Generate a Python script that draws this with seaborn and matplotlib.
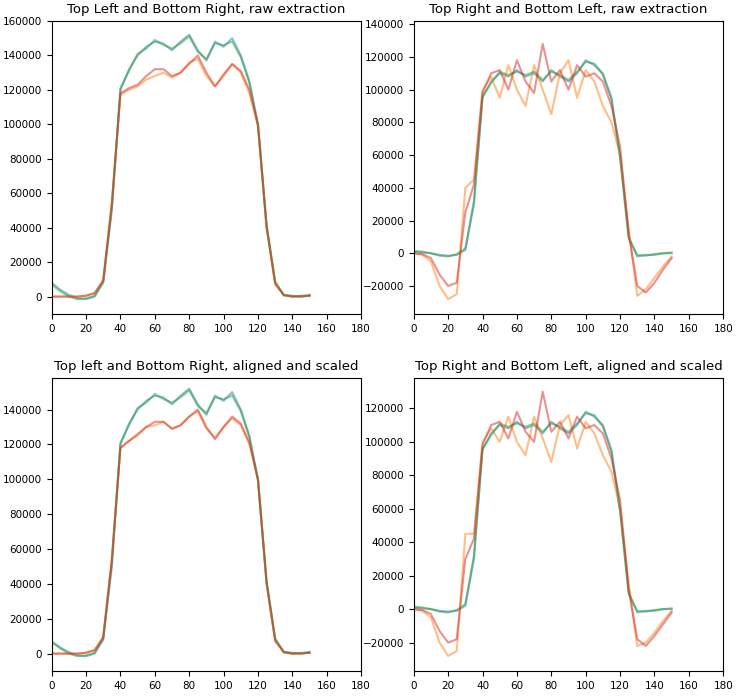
import matplotlib
matplotlib.use("Agg")
import matplotlib.pyplot as plt
import seaborn as sns
import numpy as np

x = [0,5,10,15,20,25,30,35,40,45,50,55,60,65,70,75,80,85,90,95,100,105,110,115,120,125,130,135,140,145,150]

# Top-left / bottom-right, raw
tl_blue  = [8000,4000,1000,-1000,-1500,0,8000,50000,120000,132000,140000,145000,148000,147000,143000,148000,152000,143000,137000,148000,145000,150000,140000,125000,100000,40000,8000,1000,500,0,1000]
tl_green = [7000,3000,0,-1500,-1000,500,9000,52000,121000,131000,141000,144000,149000,146000,144000,147000,151000,142000,138000,147000,146000,148000,139000,124000,99000,42000,9000,500,0,500,500]
tl_orange= [0,0,0,0,500,2000,10000,55000,117000,120000,122000,126000,128000,130000,127000,130000,136000,138000,128000,122000,128000,135000,130000,118000,99000,40000,8000,1000,0,0,500]
tl_red   = [0,0,0,0,500,2000,9000,54000,118000,121000,123000,128000,132000,132000,128000,130000,135000,140000,130000,122000,129000,135000,131000,120000,100000,41000,7000,1000,0,0,500]

# Top-right / bottom-left, raw
tr_blue  = [1000,500,0,-1000,-1500,-1000,2000,30000,95000,105000,110000,108000,112000,108000,110000,105000,112000,108000,105000,110000,118000,115000,110000,95000,60000,10000,-2000,-1000,-1000,0,0]
tr_green = [1500,1000,0,-1500,-2000,-500,3000,32000,96000,104000,111000,109000,111000,109000,111000,106000,111000,109000,106000,111000,117000,116000,109000,94000,58000,9000,-1000,-1500,-500,0,500]
tr_orange= [0,-1000,-5000,-20000,-28000,-25000,40000,45000,100000,108000,95000,115000,100000,90000,115000,100000,85000,110000,118000,95000,112000,105000,90000,80000,60000,15000,-26000,-22000,-15000,-8000,-2000]
tr_red   = [0,-500,-3000,-13000,-20000,-18000,25000,42000,98000,110000,112000,100000,118000,105000,98000,128000,105000,112000,100000,115000,108000,110000,105000,90000,65000,12000,-20000,-24000,-18000,-10000,-3000]

# Bottom panels (aligned and scaled)
bl_blue  = [7000,3500,800,-1000,-1500,0,8000,50000,120000,132000,140000,145000,148000,147000,143000,148000,152000,143000,137000,148000,145000,150000,140000,125000,100000,40000,8000,1000,500,0,1000]
bl_green = [6500,3000,0,-1500,-1000,500,9000,52000,121000,131000,141000,144000,149000,146000,144000,147000,151000,142000,138000,147000,146000,148000,139000,124000,99000,42000,9000,500,0,500,500]
bl_orange= [0,0,0,0,500,2000,10000,55000,118000,122000,125000,130000,131000,133000,129000,131000,136000,139000,129000,124000,130000,135000,131000,120000,100000,40000,8000,1000,0,0,500]
bl_red   = [0,0,0,0,500,2000,9000,54000,118000,122000,126000,130000,133000,133000,129000,131000,136000,140000,130000,123000,130000,136000,132000,121000,100000,41000,7000,1000,0,0,500]

br_blue  = tr_blue
br_green = tr_green
br_orange= [0,-1000,-5000,-20000,-28000,-25000,45000,45000,100000,108000,100000,115000,100000,92000,115000,102000,88000,110000,116000,96000,112000,105000,92000,82000,60000,15000,-22000,-20000,-14000,-7000,-1000]
br_red   = [0,-500,-3000,-13000,-20000,-18000,30000,42000,98000,110000,112000,102000,118000,106000,100000,130000,106000,112000,102000,115000,108000,110000,105000,90000,65000,12000,-18000,-22000,-16000,-9000,-2000]

titles = ["Top Left and Bottom Right, raw extraction",
          "Top Right and Bottom Left, raw extraction",
          "Top left and Bottom Right, aligned and scaled",
          "Top Right and Bottom Left, aligned and scaled"]
panels = [(tl_blue, tl_orange, tl_green, tl_red),
          (tr_blue, tr_orange, tr_green, tr_red),
          (bl_blue, bl_orange, bl_green, bl_red),
          (br_blue, br_orange, br_green, br_red)]
colors = ["tab:blue", "tab:orange", "tab:green", "tab:red"]

fig, axes = plt.subplots(2, 2, figsize=(7.38, 6.99), dpi=100)
for ax, title, series in zip(axes.flat, titles, panels):
    for s, c in zip(series, colors):
        sns.lineplot(x=x, y=s, ax=ax, color=c, alpha=0.5, linewidth=1.5)
    ax.set_title(title, fontsize=9.5)
    ax.set_xlim(0, 180)
    ax.set_xticks(range(0, 181, 20))
    ax.tick_params(labelsize=7.5)
for ax in (axes[0,0], axes[1,0]):
    ax.set_ylim(-10000, 160000)
axes[0,0].set_yticks(range(0, 160001, 20000))
axes[1,0].set_yticks(range(0, 140001, 20000))
axes[1,0].set_ylim(-10000, 158000)
for ax in (axes[0,1], axes[1,1]):
    ax.set_ylim(-37000, 142000)
axes[0,1].set_yticks(range(-20000, 140001, 20000))
axes[1,1].set_yticks(range(-20000, 120001, 20000))
axes[1,1].set_ylim(-37000, 138000)
fig.subplots_adjust(left=0.07, right=0.98, top=0.97, bottom=0.04, wspace=0.17, hspace=0.22)
fig.savefig("out.png", dpi=100)
